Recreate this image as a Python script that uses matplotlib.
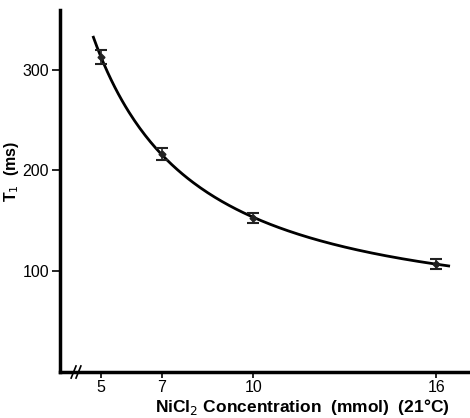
import numpy as np
import matplotlib.pyplot as plt

conc = [5, 7, 10, 16]
t1 = [312, 216, 153, 107]
err = [7, 6, 5, 5]
x_ticks = [5, 7, 10, 16]
y_ticks = [100, 200, 300]

plt.rcParams['font.family'] = ['Liberation Sans', 'DejaVu Sans']

fig = plt.figure(figsize=(4.7, 4.18), dpi=100)
ax = fig.add_axes([0.128, 0.11, 0.872, 0.866])

# smooth fit curve through the measured points (log-log quadratic)
coef = np.polyfit(np.log(conc), np.log(t1), 2)
xs = np.linspace(4.75, 16.4, 200)
ax.plot(xs, np.exp(np.polyval(coef, np.log(xs))), color='black', lw=2)

ax.errorbar(conc, t1, yerr=err, fmt='D', ms=3.5, color='#222222',
            ecolor='#222222', elinewidth=1.2, capsize=4, capthick=1.5)

ax.set_xlim(3.66, 17.1)
ax.set_ylim(0, 359)
ax.set_xticks(x_ticks)
ax.set_yticks(y_ticks)
ax.tick_params(axis='y', labelsize=11.5, width=1.2, length=6, pad=2)
ax.tick_params(axis='x', labelsize=11.5, width=1.2, length=4, pad=2)

for s in ['top', 'right']:
    ax.spines[s].set_visible(False)
for s in ['left', 'bottom']:
    ax.spines[s].set_linewidth(2.5)

# axis break on x axis
for dx in [-0.08, 0.08]:
    ax.plot([4.18 + dx - 0.08, 4.18 + dx + 0.08], [-6, 6], color='black',
            lw=1.2, clip_on=False, zorder=5)

fig.text(0.025, 0.589, r'T$_1$  (ms)', rotation=90, fontsize=11.5,
         fontweight='bold', ha='center', va='center')
fig.text(0.643, 0.027, 'NiCl$_2$ Concentration  (mmol)  (21°C)', fontsize=12.5,
         fontweight='bold', ha='center', va='center')

fig.savefig('out.png', dpi=100)
